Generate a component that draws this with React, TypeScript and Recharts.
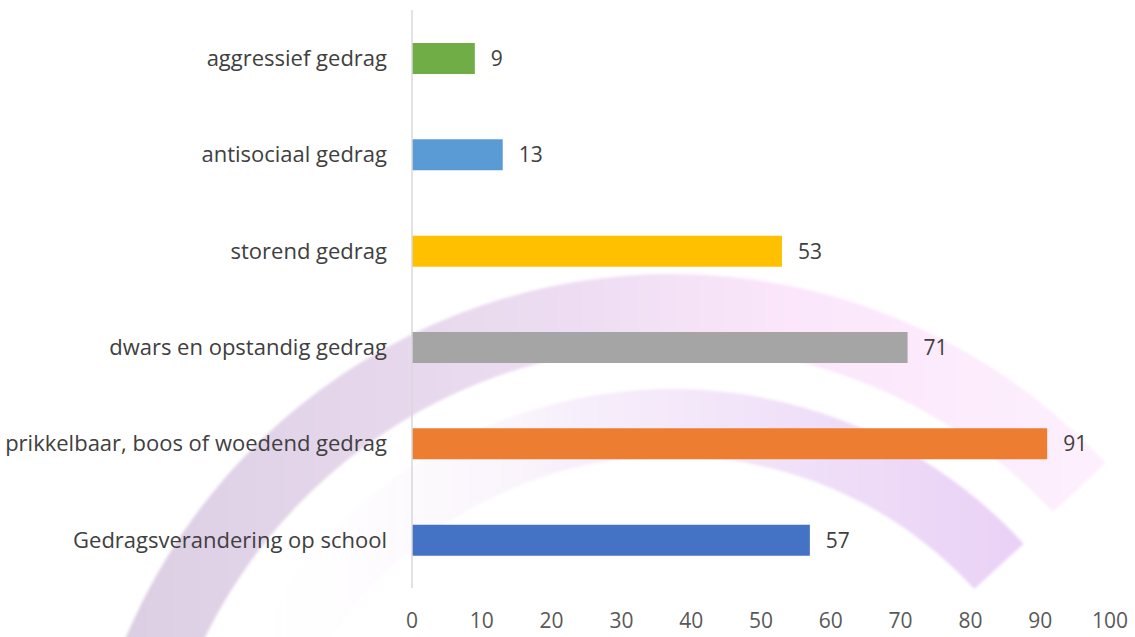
import React from 'react';
import { BarChart, Bar, XAxis, YAxis, Cell, LabelList } from 'recharts';

// categories top to bottom, as in the picture
const categories = [
  'aggressief gedrag',
  'antisociaal gedrag',
  'storend gedrag',
  'dwars en opstandig gedrag',
  'prikkelbaar, boos of woedend gedrag',
  'Gedragsverandering op school',
];
const counts = [9, 13, 53, 71, 91, 57];
const barColors = ['#70AD47', '#5B9BD5', '#FFC000', '#A5A5A5', '#ED7D31', '#4472C4'];
const xTicks = [0, 10, 20, 30, 40, 50, 60, 70, 80, 90, 100];

const data = categories.map((name, i) => ({ name, count: counts[i] }));

const W = 1135;
const H = 637;
const FONT = '"Open Sans", "Noto Sans", sans-serif';

// ring segment for the watermark behind the chart
function ringPath(cx: number, cy: number, rOut: number, rIn: number, a1: number, a2: number) {
  const pt = (r: number, a: number) => {
    const rad = (a * Math.PI) / 180;
    return `${cx + r * Math.cos(rad)} ${cy - r * Math.sin(rad)}`;
  };
  const large = a2 - a1 > 180 ? 1 : 0;
  return `M ${pt(rOut, a1)} A ${rOut} ${rOut} 0 ${large} 0 ${pt(rOut, a2)} L ${pt(rIn, a2)} A ${rIn} ${rIn} 0 ${large} 1 ${pt(rIn, a1)} Z`;
}

function Watermark() {
  return (
    <svg width={W} height={H} style={{ position: 'absolute', left: 0, top: 0 }}>
      <defs>
        <linearGradient id="outerArc" x1="0" y1="0" x2="1" y2="0">
          <stop offset="0%" stopColor="#dacde1" />
          <stop offset="45%" stopColor="#ecdcf1" />
          <stop offset="70%" stopColor="#fbe6fb" />
          <stop offset="100%" stopColor="#fdf0fd" />
        </linearGradient>
        <linearGradient id="innerArc" x1="0" y1="0" x2="1" y2="0">
          <stop offset="0%" stopColor="#ffffff" stopOpacity={0} />
          <stop offset="50%" stopColor="#f6ecfa" />
          <stop offset="100%" stopColor="#e9d1f6" />
        </linearGradient>
        <filter id="soft" x="-5%" y="-5%" width="110%" height="110%">
          <feGaussianBlur stdDeviation="1.5" />
        </filter>
      </defs>
      <path d={ringPath(672, 866, 592, 520, 42.9, 200)} fill="url(#outerArc)" filter="url(#soft)" />
      <path d={ringPath(672, 866, 477, 410, 42.5, 200)} fill="url(#innerArc)" filter="url(#soft)" />
    </svg>
  );
}

export default function App() {
  return (
    <div style={{ position: 'absolute', left: 0, top: 0, width: W, height: H, background: '#ffffff', fontFamily: FONT }}>
      <Watermark />
      <div style={{ position: 'absolute', left: 0, top: 0 }}>
        <BarChart
          width={W}
          height={H}
          data={data}
          layout="vertical"
          margin={{ top: 10, right: 25, bottom: 0, left: 0 }}
          barCategoryGap={0}
        >
          <XAxis
            type="number"
            domain={[0, 100]}
            ticks={xTicks}
            interval={0}
            axisLine={false}
            tickLine={false}
            tickSize={0}
            tickMargin={25}
            height={49}
            tick={{ fontSize: 21, fill: '#595959', fontFamily: FONT }}
          />
          <YAxis
            type="category"
            dataKey="name"
            width={412}
            interval={0}
            tickLine={false}
            tickSize={0}
            tickMargin={25}
            axisLine={{ stroke: '#d9d9d9', strokeWidth: 1.5 }}
            tick={{ fontSize: 22, fill: '#404040', fontFamily: FONT }}
          />
          <Bar dataKey="count" barSize={31} isAnimationActive={false}>
            {data.map((d, i) => (
              <Cell key={d.name} fill={barColors[i]} />
            ))}
            <LabelList
              dataKey="count"
              position="right"
              offset={16}
              style={{ fontSize: 21, fill: '#404040', fontFamily: FONT }}
            />
          </Bar>
        </BarChart>
      </div>
    </div>
  );
}
